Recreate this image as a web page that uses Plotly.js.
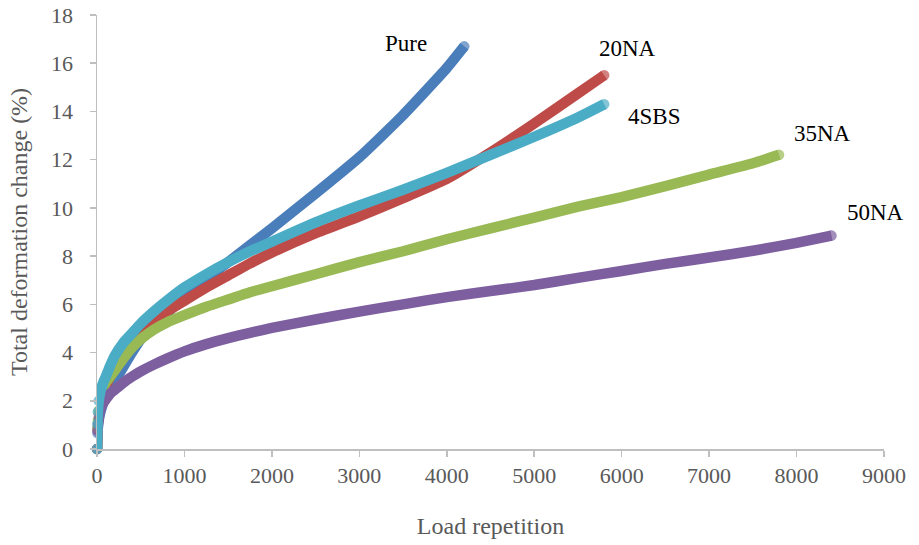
<!DOCTYPE html>
<html>
<head>
<meta charset="utf-8">
<script src="https://cdn.plot.ly/plotly-3.0.1.min.js"></script>
<style>html,body{margin:0;padding:0;background:#fff;}#chart{width:919px;height:545px;}</style>
</head>
<body>
<div id="chart"></div>
<script>
// Data
var pureX = [0, 5, 10, 20, 40, 70, 100, 150, 200, 300, 400, 500, 650, 800, 1000, 1250, 1500, 1750, 2000, 2500, 3000, 3500, 4000, 4200];
var pureY = [0, 0.66, 0.9, 1.2, 1.55, 1.9, 2.15, 2.5, 2.8, 3.4, 4.0, 4.55, 5.15, 5.65, 6.3, 7.05, 7.75, 8.45, 9.15, 10.6, 12.1, 13.85, 15.8, 16.7];

var na20X = [0, 5, 10, 20, 40, 70, 100, 150, 200, 300, 400, 500, 650, 800, 1000, 1250, 1500, 1750, 2000, 2500, 3000, 3500, 4000, 4500, 5000, 5500, 5800];
var na20Y = [0, 0.8, 1.05, 1.45, 1.9, 2.3, 2.6, 3.0, 3.35, 3.95, 4.4, 4.8, 5.3, 5.7, 6.15, 6.7, 7.2, 7.7, 8.15, 8.95, 9.65, 10.4, 11.2, 12.3, 13.5, 14.75, 15.5];

var na35X = [0, 5, 10, 20, 40, 70, 100, 150, 200, 300, 400, 500, 650, 800, 1000, 1250, 1500, 1750, 2000, 2500, 3000, 3500, 4000, 4500, 5000, 5500, 6000, 6500, 7000, 7500, 7800];
var na35Y = [0, 0.9, 1.2, 1.6, 2.1, 2.5, 2.75, 3.0, 3.25, 3.75, 4.2, 4.55, 4.95, 5.25, 5.55, 5.9, 6.2, 6.5, 6.75, 7.25, 7.75, 8.2, 8.7, 9.15, 9.6, 10.05, 10.45, 10.9, 11.38, 11.85, 12.2];

var na50X = [0, 5, 10, 20, 40, 70, 100, 150, 200, 300, 400, 500, 650, 800, 1000, 1250, 1500, 1750, 2000, 2500, 3000, 3500, 4000, 4500, 5000, 5500, 6000, 6500, 7000, 7500, 8000, 8400];
var na50Y = [0, 0.75, 1.0, 1.3, 1.65, 1.9, 2.05, 2.3, 2.45, 2.75, 3.0, 3.22, 3.5, 3.75, 4.05, 4.35, 4.6, 4.82, 5.02, 5.37, 5.7, 6.0, 6.3, 6.55, 6.8, 7.1, 7.38, 7.68, 7.94, 8.22, 8.55, 8.85];

var sbs4X = [0, 5, 10, 20, 40, 70, 100, 150, 200, 300, 400, 500, 650, 800, 1000, 1250, 1500, 1750, 2000, 2500, 3000, 3500, 4000, 4500, 5000, 5500, 5800];
var sbs4Y = [0, 1.05, 1.55, 2.0, 2.4, 2.75, 3.0, 3.45, 3.85, 4.4, 4.8, 5.2, 5.7, 6.15, 6.7, 7.25, 7.75, 8.2, 8.6, 9.4, 10.1, 10.75, 11.45, 12.2, 12.95, 13.75, 14.3];

var seriesNames = ["Pure", "20NA", "35NA", "50NA", "4SBS"];
var xTickVals = [0, 1000, 2000, 3000, 4000, 5000, 6000, 7000, 8000, 9000];
var yTickVals = [0, 2, 4, 6, 8, 10, 12, 14, 16, 18];

var colors = ["#4a7ebb", "#be4b48", "#98b954", "#7d5fa0", "#4bacc6"];
var xs = [pureX, na20X, na35X, na50X, sbs4X];
var ys = [pureY, na20Y, na35Y, na50Y, sbs4Y];

var serif = "'Liberation Serif', 'Times New Roman', serif";

var traces = xs.map(function (x, i) {
  // visible round dots only on the first few points and the last one
  var sizes = x.map(function (v, k) { return (k < 4 || k === x.length - 1) ? 10.5 : 0; });
  return {
    x: x, y: ys[i], name: seriesNames[i],
    type: "scatter", mode: "lines+markers",
    line: {color: colors[i], width: 10.5, shape: "spline", smoothing: 0.5},
    marker: {color: colors[i], size: sizes, line: {width: 0}},
    cliponaxis: false,
    showlegend: false,
    hoverinfo: "x+y+name"
  };
});

// label positions (data coordinates)
var labelX = [3530, 6070, 8300, 8900, 6370];
var labelY = [16.8, 16.6, 13.1, 9.8, 13.8];

var annotations = seriesNames.map(function (n, i) {
  return {
    x: labelX[i], y: labelY[i], xref: "x", yref: "y",
    text: n, showarrow: false,
    font: {family: serif, size: 23, color: "#000000"}
  };
});

var layout = {
  width: 919, height: 545,
  paper_bgcolor: "#ffffff", plot_bgcolor: "#ffffff",
  margin: {l: 97, r: 35, t: 15, b: 96, pad: 0},
  showlegend: false,
  font: {family: serif, color: "#595959"},
  xaxis: {
    range: [0, 9000], tickvals: xTickVals, ticktext: xTickVals.map(String),
    showgrid: false, zeroline: false,
    showline: true, linecolor: "#bfbfbf", linewidth: 1.5,
    ticks: "outside", ticklen: 6, tickwidth: 1.5, tickcolor: "#bfbfbf",
    tickfont: {family: serif, size: 22, color: "#595959"},
    title: {text: "Load repetition", font: {family: serif, size: 24, color: "#595959"}, standoff: 30}
  },
  yaxis: {
    range: [0, 18], tickvals: yTickVals, ticktext: yTickVals.map(String),
    showgrid: false, zeroline: false,
    showline: true, linecolor: "#bfbfbf", linewidth: 1.5,
    ticks: "outside", ticklen: 6, tickwidth: 1.5, tickcolor: "#bfbfbf",
    ticklabelstandoff: 12,
    tickfont: {family: serif, size: 22, color: "#595959"},
    title: {text: "Total deformation change (%)", font: {family: serif, size: 24, color: "#595959"}, standoff: 16}
  },
  annotations: annotations
};

Plotly.newPlot("chart", traces, layout, {displayModeBar: false, staticPlot: true});
</script>
</body>
</html>
